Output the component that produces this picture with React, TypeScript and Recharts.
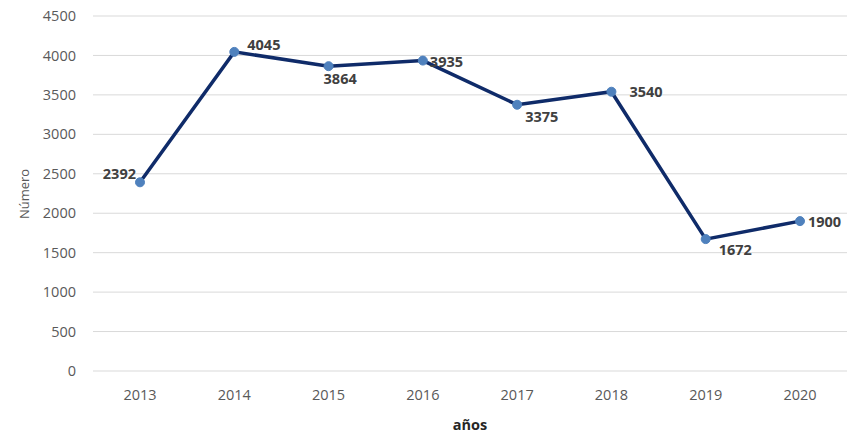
import { CartesianGrid, LabelList, Line, LineChart, XAxis, YAxis } from "recharts";

const years = ["2013", "2014", "2015", "2016", "2017", "2018", "2019", "2020"];
const values = [2392, 4045, 3864, 3935, 3375, 3540, 1672, 1900];
const yTicks = [0, 500, 1000, 1500, 2000, 2500, 3000, 3500, 4000, 4500];

// where each data label sits relative to its point
const labelOffsets = [
  { dx: -4, dy: -3, anchor: "end" },
  { dx: 13, dy: -2, anchor: "start" },
  { dx: -5, dy: 18, anchor: "start" },
  { dx: 7, dy: 6, anchor: "start" },
  { dx: 8, dy: 17, anchor: "start" },
  { dx: 18, dy: 5, anchor: "start" },
  { dx: 13, dy: 16, anchor: "start" },
  { dx: 8, dy: 6, anchor: "start" },
];

const data = years.map((year, i) => ({ year, value: values[i] }));

const FONT = "'Open Sans', 'Noto Sans', sans-serif";

function PointLabel(props: any) {
  const { x, y, value, index } = props;
  const o = labelOffsets[index] ?? { dx: 6, dy: 5, anchor: "start" };
  return (
    <text
      x={x + o.dx}
      y={y + o.dy}
      textAnchor={o.anchor}
      fontFamily={FONT}
      fontSize={14.5}
      fontWeight={700}
      fill="#404040"
    >
      {value}
    </text>
  );
}

function YTitle() {
  return (
    <text
      x={24}
      y={194}
      transform="rotate(-90, 24, 194)"
      textAnchor="middle"
      dominantBaseline="central"
      fontFamily={FONT}
      fontSize={13}
      fill="#595959"
    >
      Número
    </text>
  );
}

export default function App() {
  const tickStyle = { fontFamily: FONT, fontSize: 14.5, fill: "#595959" };
  return (
    <div style={{ position: "absolute", left: 0, top: 0, background: "#fff" }}>
      <LineChart
        width={850}
        height={438}
        data={data}
        margin={{ top: 16, right: 3, left: 0, bottom: 0 }}
      >
        <CartesianGrid stroke="#d9d9d9" vertical={false} />
        <XAxis
          dataKey="year"
          height={67}
          padding={{ left: 47, right: 47 }}
          tickLine={false}
          axisLine={false}
          tickMargin={13}
          tick={tickStyle}
          label={{
            value: "años",
            position: "insideBottom",
            offset: 8,
            style: { fontFamily: FONT, fontSize: 14.5, fontWeight: 700, fill: "#262626" },
          }}
        />
        <YAxis
          width={93}
          domain={[0, 4500]}
          ticks={yTicks}
          tickLine={false}
          axisLine={false}
          tickMargin={11}
          tick={tickStyle}
          label={<YTitle />}
        />
        <Line
          dataKey="value"
          stroke="#0f2b69"
          strokeWidth={3.5}
          dot={{ r: 4.5, fill: "#4f81bd", stroke: "#4f81bd", strokeWidth: 1 }}
          isAnimationActive={false}
        >
          <LabelList dataKey="value" content={<PointLabel />} />
        </Line>
      </LineChart>
    </div>
  );
}
